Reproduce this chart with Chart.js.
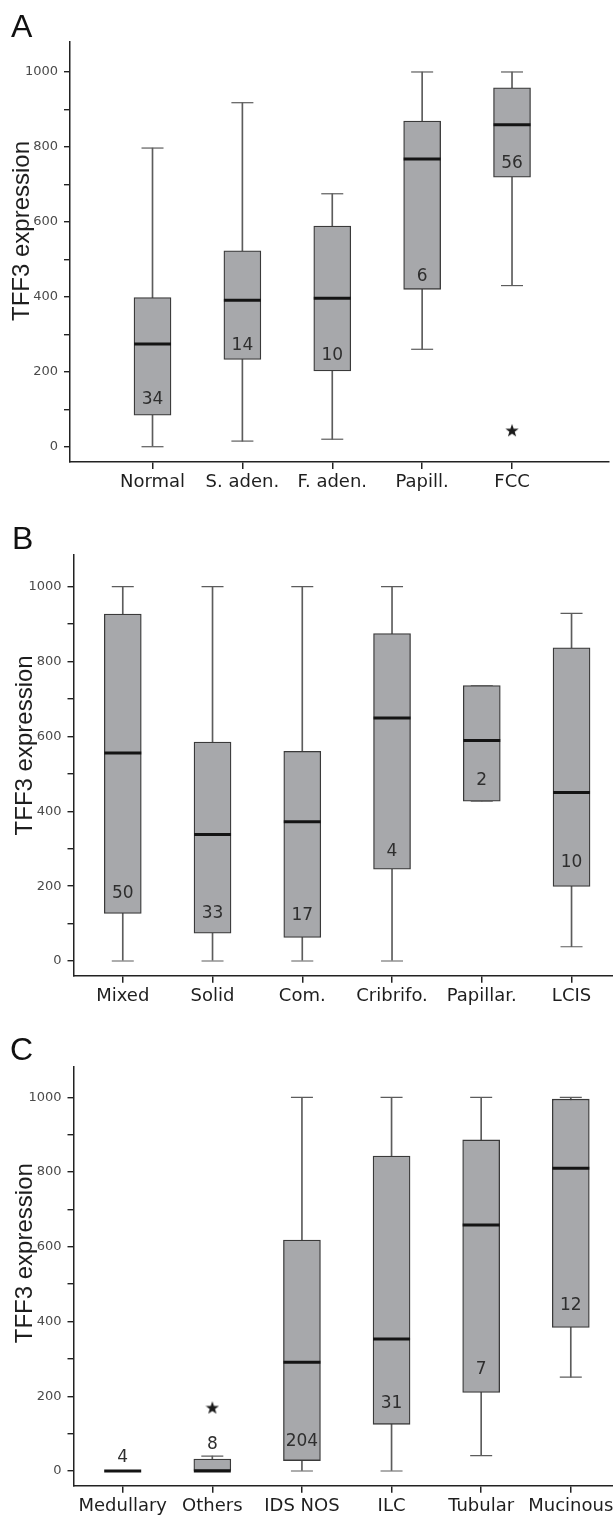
<!DOCTYPE html>
<html lang="en">
<head>
<meta charset="UTF-8" />
<title>TFF3 expression</title>
<script src="https://cdn.jsdelivr.net/npm/chart.js"></script>
<style>
  html, body { margin: 0; padding: 0; background: #fff; overflow: hidden; width: 613px; height: 1518px; }
  canvas { position: absolute; left: 0; display: block; }
</style>
</head>
<body>
<canvas id="grafico_a" width="613" height="505" style="top:0px"></canvas>
<canvas id="grafico_b" width="613" height="505" style="top:510px"></canvas>
<canvas id="grafico_c" width="613" height="503" style="top:1015px"></canvas>

<script>
// ticks of the y axis (labels only every 200)
const yTicks = [0, 100, 200, 300, 400, 500, 600, 700, 800, 900, 1000];

// panel A
const labelsA = ['Normal', 'S. aden.', 'F. aden.', 'Papill.', 'FCC'];
const minA = [0, 15, 20, 260, 430];
const q1A = [84, 233, 202, 420, 719];
const medianA = [274, 391, 396, 768, 859];
const q3A = [398, 523, 589, 869, 958];
const maxA = [797, 918, 675, 1000, 1000];
const outliersA = [[], [], [], [], [44]];
const nA = ['34', '14', '10', '6', '56'];
const nPosA = [125, 269, 242, 454, 756];

// panel B
const labelsB = ['Mixed', 'Solid', 'Com.', 'Cribrifo.', 'Papillar.', 'LCIS'];
const minB = [0, 0, 0, 0, 427, 38];
const q1B = [127, 74, 63, 245, 427, 199];
const medianB = [556, 338, 372, 649, 589, 450];
const q3B = [927, 585, 560, 875, 736, 837];
const maxB = [1000, 1000, 1000, 1000, 736, 929];
const outliersB = [[], [], [], [], [], []];
const nB = ['50', '33', '17', '4', '2', '10'];
const nPosB = [181, 126, 121, 291, 482, 262];

// panel C
const labelsC = ['Medullary', 'Others', 'IDS NOS', 'ILC', 'Tubular', 'Mucinous'];
const minC = [0, 0, 0, 0, 41, 251];
const q1C = [0, 0, 28, 125, 210, 384];
const medianC = [0, 0, 291, 353, 658, 810];
const q3C = [0, 32, 618, 843, 886, 995];
const maxC = [0, 40, 1000, 1000, 1000, 1000];
const outliersC = [[], [170], [], [], [], []];
const nC = ['4', '8', '204', '31', '7', '12'];
const nPosC = [36, 72, 78, 181, 272, 444];

function criarEstrela(tam, cor) {
    const c = document.createElement('canvas');
    c.width = tam;
    c.height = tam;
    const g = c.getContext('2d');
    g.fillStyle = cor;
    g.beginPath();
    for (let k = 0; k < 10; k++) {
        const r = k % 2 === 0 ? tam / 2 : tam / 5;
        const a = -Math.PI / 2 + k * Math.PI / 5;
        const px = tam / 2 + r * Math.cos(a);
        const py = tam * 0.55 + r * Math.sin(a);
        if (k === 0) g.moveTo(px, py); else g.lineTo(px, py);
    }
    g.closePath();
    g.fill();
    return c;
}
const estrela = criarEstrela(14, '#1a1a1a');

// n labels, panel letter and y title
const textosPlugin = {
    id: 'textos',
    afterDatasetsDraw(chart, args, opts) {
        const ctx = chart.ctx;
        const x = chart.scales.x;
        const y = chart.scales.y;
        const area = chart.chartArea;
        ctx.save();
        ctx.fillStyle = '#2e2e2e';
        ctx.font = '17px "DejaVu Sans"';
        ctx.textAlign = 'center';
        ctx.textBaseline = 'middle';
        opts.n.forEach((t, i) => {
            ctx.fillText(t, x.getPixelForValue(i + 1), y.getPixelForValue(opts.nPos[i]));
        });

        ctx.fillStyle = '#111';
        ctx.font = '32px "Liberation Sans"';
        ctx.textAlign = 'left';
        ctx.textBaseline = 'alphabetic';
        ctx.fillText(opts.letra, opts.letraX, opts.letraY);

        ctx.translate(opts.tituloX, (area.top + area.bottom) / 2 + opts.tituloDesvio);
        ctx.rotate(-Math.PI / 2);
        ctx.fillStyle = '#1e1e1e';
        ctx.font = '24px "Liberation Sans"';
        ctx.textAlign = 'center';
        ctx.textBaseline = 'middle';
        ctx.fillText('TFF3 expression', 0, 0);
        ctx.restore();
    }
};

function plotarPainel(id, d, lay) {
    const pos = d.labels.map((_, i) => i + 1);
    const limites = [];
    pos.forEach((x, i) => {
        limites.push({ x: x, y: d.min[i] });
        limites.push({ x: x, y: d.max[i] });
    });
    const outliers = [];
    pos.forEach((x, i) => d.outliers[i].forEach(v => outliers.push({ x: x, y: v })));

    const config = {
        type: 'bar',
        data: {
            datasets: [
                {
                    type: 'bar', label: 'whisker',
                    data: pos.map((x, i) => ({ x: x, y: [d.min[i], d.max[i]] })),
                    backgroundColor: '#5c5c5c', borderWidth: 0,
                    barThickness: 1, grouped: false, order: 4
                },
                {
                    type: 'bar', label: 'box',
                    data: pos.map((x, i) => ({ x: x, y: [d.q1[i], d.q3[i]] })),
                    backgroundColor: '#a7a8ab', borderColor: '#3a3a3a', borderWidth: 1.3,
                    borderSkipped: false, barThickness: 37, grouped: false, order: 3
                },
                {
                    type: 'line', label: 'caps', data: limites, showLine: false,
                    pointStyle: 'line', pointRadius: 11, pointBorderWidth: 1.2,
                    pointBorderColor: '#5c5c5c', order: 2
                },
                {
                    type: 'line', label: 'median',
                    data: pos.map((x, i) => ({ x: x, y: d.median[i] })), showLine: false,
                    pointStyle: 'line', pointRadius: 18.5, pointBorderWidth: 3,
                    pointBorderColor: '#141414', order: 1
                },
                {
                    type: 'line', label: 'outlier', data: outliers, showLine: false,
                    pointStyle: estrela, pointRadius: 7, order: 0
                }
            ]
        },
        options: {
            responsive: false,
            animation: false,
            events: [],
            layout: { autoPadding: false, padding: { top: lay.top, right: lay.right, left: 0, bottom: 0 } },
            plugins: {
                legend: { display: false },
                tooltip: { enabled: false },
                textos: {
                    n: d.n, nPos: d.nPos, letra: lay.letra, letraX: lay.letraX, letraY: lay.letraY,
                    tituloX: lay.tituloX, tituloDesvio: lay.tituloDesvio
                }
            },
            scales: {
                x: {
                    type: 'linear', min: lay.xMin, max: lay.xMax, offset: false,
                    afterBuildTicks: s => { s.ticks = pos.map(v => ({ value: v })); },
                    afterFit: s => {
                        s.height = lay.xHeight;
                        s.paddingLeft = 0;
                        s.paddingRight = 0;
                    },
                    grid: { drawOnChartArea: false, tickLength: 7, color: '#222', lineWidth: 1.5, offset: false },
                    border: { display: true, color: '#222', width: 1.5 },
                    ticks: {
                        callback: (v, i) => d.labels[i],
                        autoSkip: false, maxRotation: 0, minRotation: 0,
                        font: { family: 'DejaVu Sans', size: 18 }, color: '#1e1e1e', padding: 3
                    }
                },
                y: {
                    type: 'linear', min: lay.yMin, max: lay.yMax,
                    afterBuildTicks: s => { s.ticks = yTicks.map(v => ({ value: v })); },
                    afterFit: s => {
                        s.width = lay.yWidth;
                        s.paddingTop = 0;
                        s.paddingBottom = 0;
                    },
                    grid: { drawOnChartArea: false, tickLength: 6, color: '#222', lineWidth: 1.4 },
                    border: { display: true, color: '#222', width: 1.5 },
                    ticks: {
                        callback: v => (v % 200 === 0 ? String(v) : ''),
                        autoSkip: false,
                        font: { family: 'DejaVu Sans', size: 13 }, color: '#4a4a4a', padding: 6
                    }
                }
            }
        },
        plugins: [textosPlugin]
    };
    return new Chart(document.getElementById(id), config);
}

plotarPainel('grafico_a',
    { labels: labelsA, min: minA, q1: q1A, median: medianA, q3: q3A, max: maxA, outliers: outliersA, n: nA, nPos: nPosA },
    { top: 42, right: 4, yWidth: 70, xHeight: 43, yMin: -40.8, yMax: 1080, xMin: 0.082, xMax: 6.079,
      letra: 'A', letraX: 11, letraY: 37, tituloX: 22, tituloDesvio: -21 });

plotarPainel('grafico_b',
    { labels: labelsB, min: minB, q1: q1B, median: medianB, q3: q3B, max: maxB, outliers: outliersB, n: nB, nPos: nPosB },
    { top: 45, right: 0, yWidth: 73.5, xHeight: 39.3, yMin: -39.3, yMax: 1084.7, xMin: 0.451, xMax: 6.462,
      letra: 'B', letraX: 12, letraY: 39, tituloX: 25, tituloDesvio: -20 });

plotarPainel('grafico_c',
    { labels: labelsC, min: minC, q1: q1C, median: medianC, q3: q3C, max: maxC, outliers: outliersC, n: nC, nPos: nPosC },
    { top: 51.7, right: 0, yWidth: 73.5, xHeight: 32.3, yMin: -39.3, yMax: 1081.9, xMin: 0.451, xMax: 6.471,
      letra: 'C', letraX: 10, letraY: 45, tituloX: 25, tituloDesvio: -23 });
</script>
</body>
</html>
